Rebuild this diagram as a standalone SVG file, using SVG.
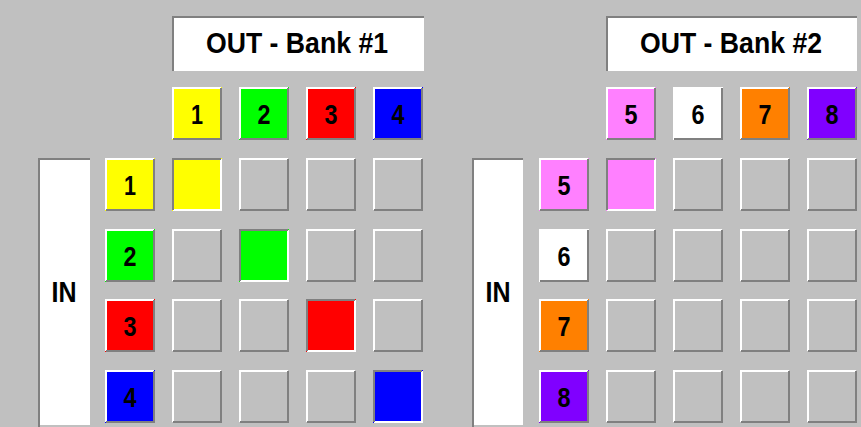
<svg xmlns="http://www.w3.org/2000/svg" xmlns:xlink="http://www.w3.org/1999/xlink" width="861" height="427" viewBox="0 0 861 427">
<style>
.t{font-family:"Liberation Sans",Arial,sans-serif;font-weight:bold;fill:#000;text-anchor:middle}
.d{font-size:28px}
.h{font-size:29px}
.hi{stroke:#ffffff;stroke-width:2;fill:none}
.sh{stroke:#808080;stroke-width:2;fill:none}
</style>
<defs>
<g id="raised">
<path class="hi" d="M1,52 V1 H49"/>
<path class="sh" d="M1,52 H49 V1"/>
</g>
<g id="sunken">
<path class="hi" d="M1,52 H49 V1"/>
<path class="sh" d="M1,52 V1 H49"/>
</g>
</defs>
<rect x="0" y="0" width="861" height="427" fill="#c0c0c0"/>

<!-- Bank 1 -->
<g id="out-bank1">
<rect x="172" y="16" width="252" height="55" fill="#fff"/>
<path class="sh" d="M173,71 V17 H424"/>
<text class="t h" x="297" y="53" textLength="182" lengthAdjust="spacingAndGlyphs">OUT - Bank #1</text>
</g>
<g id="in-bank1">
<rect x="38" y="158" width="52" height="267" fill="#fff"/>
<path class="sh" d="M39,427 V159 H90"/>
<text class="t h" x="64" y="302" textLength="25" lengthAdjust="spacingAndGlyphs">IN</text>
</g>

<g id="out1"><rect x="172" y="87" width="50" height="53" fill="#ffff00"/><use xlink:href="#raised" x="172" y="87"/><text class="t d" x="197" y="124" textLength="12" lengthAdjust="spacingAndGlyphs">1</text></g>
<g id="out2"><rect x="239" y="87" width="50" height="53" fill="#00ff00"/><use xlink:href="#raised" x="239" y="87"/><text class="t d" x="264" y="124" textLength="13" lengthAdjust="spacingAndGlyphs">2</text></g>
<g id="out3"><rect x="306" y="87" width="50" height="53" fill="#ff0000"/><use xlink:href="#raised" x="306" y="87"/><text class="t d" x="331" y="124" textLength="13" lengthAdjust="spacingAndGlyphs">3</text></g>
<g id="out4"><rect x="373" y="87" width="50" height="53" fill="#0000ff"/><use xlink:href="#raised" x="373" y="87"/><text class="t d" x="398" y="124" textLength="13" lengthAdjust="spacingAndGlyphs">4</text></g>

<g id="in1"><rect x="105" y="158" width="50" height="53" fill="#ffff00"/><use xlink:href="#raised" x="105" y="158"/><text class="t d" x="130" y="195" textLength="12" lengthAdjust="spacingAndGlyphs">1</text></g>
<g id="in2"><rect x="105" y="229" width="50" height="53" fill="#00ff00"/><use xlink:href="#raised" x="105" y="229"/><text class="t d" x="130" y="266" textLength="13" lengthAdjust="spacingAndGlyphs">2</text></g>
<g id="in3"><rect x="105" y="299" width="50" height="53" fill="#ff0000"/><use xlink:href="#raised" x="105" y="299"/><text class="t d" x="130" y="336" textLength="13" lengthAdjust="spacingAndGlyphs">3</text></g>
<g id="in4"><rect x="105" y="370" width="50" height="53" fill="#0000ff"/><use xlink:href="#raised" x="105" y="370"/><text class="t d" x="130" y="407" textLength="13" lengthAdjust="spacingAndGlyphs">4</text></g>

<g id="grid1">
<g id="c1-1-1"><rect x="172" y="158" width="50" height="53" fill="#ffff00"/><use xlink:href="#sunken" x="172" y="158"/></g>
<g id="c1-1-2"><use xlink:href="#raised" x="239" y="158"/></g>
<g id="c1-1-3"><use xlink:href="#raised" x="306" y="158"/></g>
<g id="c1-1-4"><use xlink:href="#raised" x="373" y="158"/></g>
<g id="c1-2-1"><use xlink:href="#raised" x="172" y="229"/></g>
<g id="c1-2-2"><rect x="239" y="229" width="50" height="53" fill="#00ff00"/><use xlink:href="#sunken" x="239" y="229"/></g>
<g id="c1-2-3"><use xlink:href="#raised" x="306" y="229"/></g>
<g id="c1-2-4"><use xlink:href="#raised" x="373" y="229"/></g>
<g id="c1-3-1"><use xlink:href="#raised" x="172" y="299"/></g>
<g id="c1-3-2"><use xlink:href="#raised" x="239" y="299"/></g>
<g id="c1-3-3"><rect x="306" y="299" width="50" height="53" fill="#ff0000"/><use xlink:href="#sunken" x="306" y="299"/></g>
<g id="c1-3-4"><use xlink:href="#raised" x="373" y="299"/></g>
<g id="c1-4-1"><use xlink:href="#raised" x="172" y="370"/></g>
<g id="c1-4-2"><use xlink:href="#raised" x="239" y="370"/></g>
<g id="c1-4-3"><use xlink:href="#raised" x="306" y="370"/></g>
<g id="c1-4-4"><rect x="373" y="370" width="50" height="53" fill="#0000ff"/><use xlink:href="#sunken" x="373" y="370"/></g>
</g>

<!-- Bank 2 -->
<g id="out-bank2">
<rect x="606" y="16" width="251" height="55" fill="#fff"/>
<path class="sh" d="M607,71 V17 H857"/>
<text class="t h" x="731" y="53" textLength="182" lengthAdjust="spacingAndGlyphs">OUT - Bank #2</text>
</g>
<g id="in-bank2">
<rect x="472" y="158" width="51" height="267" fill="#fff"/>
<path class="sh" d="M473,427 V159 H523"/>
<text class="t h" x="498" y="302" textLength="25" lengthAdjust="spacingAndGlyphs">IN</text>
</g>

<g id="out5"><rect x="606" y="87" width="50" height="53" fill="#ff80ff"/><use xlink:href="#raised" x="606" y="87"/><text class="t d" x="631" y="124" textLength="13" lengthAdjust="spacingAndGlyphs">5</text></g>
<g id="out6"><rect x="673" y="87" width="50" height="53" fill="#ffffff"/><use xlink:href="#raised" x="673" y="87"/><text class="t d" x="698" y="124" textLength="13" lengthAdjust="spacingAndGlyphs">6</text></g>
<g id="out7"><rect x="740" y="87" width="50" height="53" fill="#ff8000"/><use xlink:href="#raised" x="740" y="87"/><text class="t d" x="765" y="124" textLength="13" lengthAdjust="spacingAndGlyphs">7</text></g>
<g id="out8"><rect x="807" y="87" width="50" height="53" fill="#8000ff"/><use xlink:href="#raised" x="807" y="87"/><text class="t d" x="832" y="124" textLength="13" lengthAdjust="spacingAndGlyphs">8</text></g>

<g id="in5"><rect x="539" y="158" width="50" height="53" fill="#ff80ff"/><use xlink:href="#raised" x="539" y="158"/><text class="t d" x="564" y="195" textLength="13" lengthAdjust="spacingAndGlyphs">5</text></g>
<g id="in6"><rect x="539" y="229" width="50" height="53" fill="#ffffff"/><use xlink:href="#raised" x="539" y="229"/><text class="t d" x="564" y="266" textLength="13" lengthAdjust="spacingAndGlyphs">6</text></g>
<g id="in7"><rect x="539" y="299" width="50" height="53" fill="#ff8000"/><use xlink:href="#raised" x="539" y="299"/><text class="t d" x="564" y="336" textLength="13" lengthAdjust="spacingAndGlyphs">7</text></g>
<g id="in8"><rect x="539" y="370" width="50" height="53" fill="#8000ff"/><use xlink:href="#raised" x="539" y="370"/><text class="t d" x="564" y="407" textLength="13" lengthAdjust="spacingAndGlyphs">8</text></g>

<g id="grid2">
<g id="c2-1-1"><rect x="606" y="158" width="50" height="53" fill="#ff80ff"/><use xlink:href="#sunken" x="606" y="158"/></g>
<g id="c2-1-2"><use xlink:href="#raised" x="673" y="158"/></g>
<g id="c2-1-3"><use xlink:href="#raised" x="740" y="158"/></g>
<g id="c2-1-4"><use xlink:href="#raised" x="807" y="158"/></g>
<g id="c2-2-1"><use xlink:href="#raised" x="606" y="229"/></g>
<g id="c2-2-2"><use xlink:href="#raised" x="673" y="229"/></g>
<g id="c2-2-3"><use xlink:href="#raised" x="740" y="229"/></g>
<g id="c2-2-4"><use xlink:href="#raised" x="807" y="229"/></g>
<g id="c2-3-1"><use xlink:href="#raised" x="606" y="299"/></g>
<g id="c2-3-2"><use xlink:href="#raised" x="673" y="299"/></g>
<g id="c2-3-3"><use xlink:href="#raised" x="740" y="299"/></g>
<g id="c2-3-4"><use xlink:href="#raised" x="807" y="299"/></g>
<g id="c2-4-1"><use xlink:href="#raised" x="606" y="370"/></g>
<g id="c2-4-2"><use xlink:href="#raised" x="673" y="370"/></g>
<g id="c2-4-3"><use xlink:href="#raised" x="740" y="370"/></g>
<g id="c2-4-4"><use xlink:href="#raised" x="807" y="370"/></g>
</g>
<g id="connectors"/>
</svg>
